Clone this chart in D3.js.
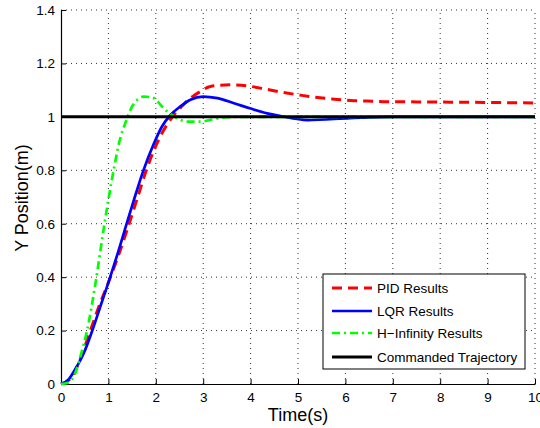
<!DOCTYPE html>
<html>
<head>
<meta charset="utf-8">
<script src="https://cdn.jsdelivr.net/npm/d3@7"></script>
<style>
  html, body { margin: 0; padding: 0; background: #fff; }
  svg { display: block; font-family: "Liberation Sans", Arial, sans-serif; }
  .axis text { font-size: 13.5px; fill: #000; }
  .axis path, .axis line { stroke: #000; }
  .axis-label { font-size: 18px; fill: #000; }
  .legend-text { font-size: 13.5px; fill: #000; }
</style>
</head>
<body>
<div id="chart"></div>
<script>
// series (time in s, position in m)
const pidT = [0, 0.2, 0.4, 0.6, 0.8, 1.0, 1.2, 1.4, 1.6, 1.8, 1.96, 2.15, 2.35, 2.55, 2.73, 2.94, 3.15, 3.58, 3.96, 4.31, 4.67, 5.02, 5.37, 5.72, 6.11, 6.46, 6.81, 7.51, 8.22, 8.92, 10];
const pidY = [0, 0.02, 0.09, 0.19, 0.29, 0.38, 0.475, 0.58, 0.69, 0.8, 0.875, 0.945, 1.0, 1.04, 1.07, 1.095, 1.114, 1.12, 1.115, 1.104, 1.092, 1.082, 1.073, 1.067, 1.061, 1.059, 1.057, 1.056, 1.055, 1.054, 1.052];

const lqrT = [0, 0.15, 0.3, 0.48, 0.66, 0.83, 1.01, 1.19, 1.36, 1.54, 1.73, 1.96, 2.13, 2.31, 2.52, 2.73, 3.0, 3.3, 3.65, 4.0, 4.35, 4.63, 5.2, 6.1, 7.0, 8.0, 10];
const lqrY = [0, 0.015, 0.055, 0.115, 0.2, 0.29, 0.385, 0.485, 0.585, 0.69, 0.795, 0.9, 0.964, 1.007, 1.039, 1.064, 1.076, 1.07, 1.051, 1.031, 1.013, 1.003, 0.988, 0.995, 1.0, 1.0, 1.0];

const hinfT = [0, 0.15, 0.3, 0.42, 0.55, 0.73, 0.9, 1.11, 1.25, 1.36, 1.5, 1.75, 1.96, 2.1, 2.24, 2.45, 2.66, 2.94, 3.22, 3.5, 4.0, 6.0, 8.0, 10];
const hinfY = [0, 0.005, 0.04, 0.11, 0.2, 0.38, 0.58, 0.8, 0.92, 0.978, 1.039, 1.076, 1.07, 1.045, 1.02, 0.995, 0.982, 0.982, 0.991, 0.999, 1.0, 1.0, 1.0, 1.0];

const cmdT = [0, 10];
const cmdY = [1, 1];

const xTicks = [0, 1, 2, 3, 4, 5, 6, 7, 8, 9, 10];
const yTicks = [0, 0.2, 0.4, 0.6, 0.8, 1, 1.2, 1.4];

const legendLabels = ["PID Results", "LQR Results", "H\u2212Infinity Results", "Commanded Trajectory"];

const width = 540;
const height = 428;
const margin = { top: 10, right: 5, bottom: 44, left: 61 };

const svg = d3.select("#chart").append("svg")
  .attr("width", width)
  .attr("height", height);

const xScale = d3.scaleLinear().domain([0, 10]).range([margin.left, width - margin.right]);
const yScale = d3.scaleLinear().domain([0, 1.4]).range([height - margin.bottom, margin.top]);

// grid
svg.append("g")
  .selectAll("line")
  .data(xTicks.slice(1))
  .join("line")
  .attr("x1", (d) => xScale(d))
  .attr("x2", (d) => xScale(d))
  .attr("y1", yScale(0))
  .attr("y2", yScale(1.4))
  .attr("stroke", "#333")
  .attr("stroke-width", 1)
  .attr("stroke-dasharray", "1,4");

svg.append("g")
  .selectAll("line")
  .data(yTicks.slice(1))
  .join("line")
  .attr("x1", xScale(0))
  .attr("x2", xScale(10))
  .attr("y1", (d) => yScale(d))
  .attr("y2", (d) => yScale(d))
  .attr("stroke", "#333")
  .attr("stroke-width", 1)
  .attr("stroke-dasharray", "1,4");

// axes
svg.append("g")
  .attr("class", "axis")
  .attr("transform", `translate(0,${yScale(0)})`)
  .call(d3.axisBottom(xScale).tickValues(xTicks).tickSizeInner(-5).tickSizeOuter(0).tickPadding(8).tickFormat(d3.format("d")));

svg.append("g")
  .attr("class", "axis")
  .attr("transform", `translate(${xScale(0)},0)`)
  .call(d3.axisLeft(yScale).tickValues(yTicks).tickSizeInner(-5).tickSizeOuter(0).tickPadding(6).tickFormat((d) => +d.toFixed(1)));

svg.selectAll(".axis .domain").attr("stroke-width", 1.2);

// lines
const line = d3.line()
  .x((d) => xScale(d[0]))
  .y((d) => yScale(d[1]))
  .curve(d3.curveMonotoneX);

const series = [
  { t: pidT, y: pidY, color: "#ff0000", dash: "10,6", w: 3 },
  { t: lqrT, y: lqrY, color: "#0000ff", dash: null, w: 2.7 },
  { t: hinfT, y: hinfY, color: "#00ff00", dash: "8,4,2,4", w: 2.7 },
  { t: cmdT, y: cmdY, color: "#000000", dash: null, w: 3 },
];

series.forEach((s) => {
  svg.append("path")
    .datum(s.t.map((t, i) => [t, s.y[i]]))
    .attr("d", line)
    .attr("fill", "none")
    .attr("stroke", s.color)
    .attr("stroke-width", s.w)
    .attr("stroke-dasharray", s.dash);
});

// axis labels
svg.append("text")
  .attr("class", "axis-label")
  .attr("x", 298)
  .attr("y", 421)
  .attr("text-anchor", "middle")
  .text("Time(s)");

svg.append("text")
  .attr("class", "axis-label")
  .attr("transform", "translate(28,198)rotate(-90)")
  .attr("text-anchor", "middle")
  .text("Y Position(m)");

// legend
const legend = svg.append("g").attr("transform", "translate(323,274)");

legend.append("rect")
  .attr("width", 202)
  .attr("height", 95)
  .attr("fill", "#fff")
  .attr("stroke", "#000")
  .attr("stroke-width", 1);

const legendRows = legend.selectAll("g")
  .data(series)
  .join("g")
  .attr("transform", (d, i) => `translate(0,${[14, 37, 59, 83][i]})`);

legendRows.append("line")
  .attr("x1", 9)
  .attr("x2", 49)
  .attr("stroke", (d) => d.color)
  .attr("stroke-width", (d) => d.w)
  .attr("stroke-dasharray", (d) => d.dash);

legendRows.append("text")
  .attr("class", "legend-text")
  .attr("x", 54)
  .attr("dy", "0.35em")
  .text((d, i) => legendLabels[i]);
</script>
</body>
</html>
